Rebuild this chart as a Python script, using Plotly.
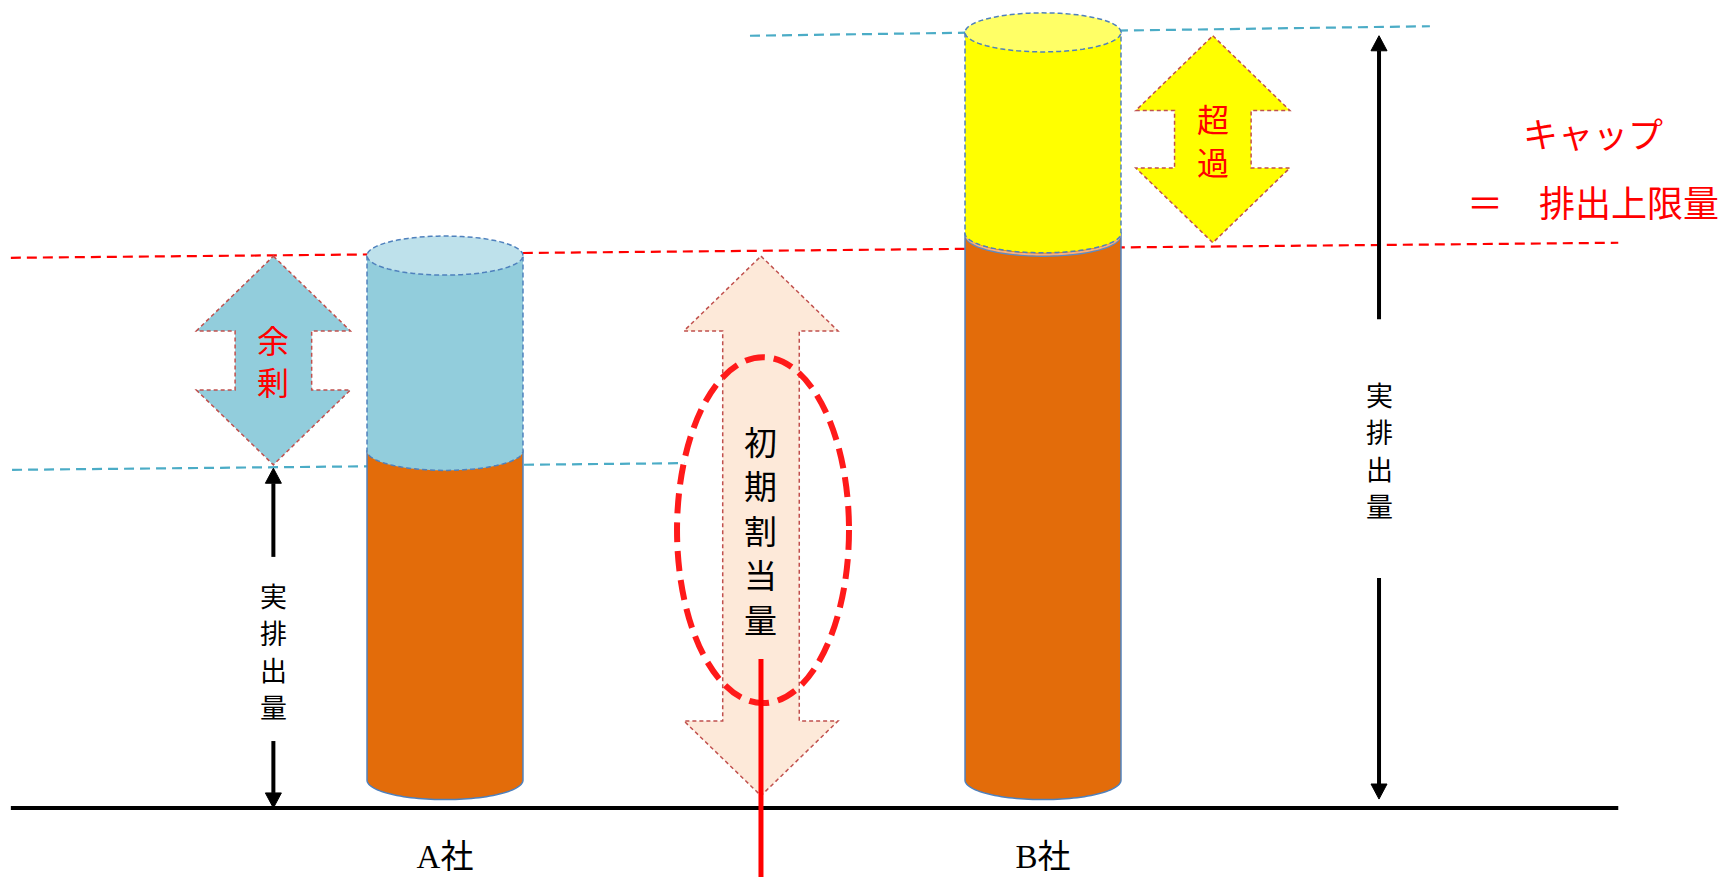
import numpy as np
import plotly.graph_objects as go

# ---------------- data (schematic emission units; ground = 0) ----------------
companies = ["A社", "B社"]
company_pos = [0, 1]
actual_emissions = [64, 139]        # 実排出量 (top of each column)
initial_allocations = [99, 103]     # 初期割当量 = キャップ (cap level on each column)
column_base = [5, 5]

cap_line_levels = [98.6, 101.3]     # red dashed cap line (left end, right end)
a_actual_line_levels = [60.6, 61.8] # blue dashed line at A's actual emissions
b_actual_line_levels = [138.4, 140.1]  # blue dashed line at B's actual emissions

surplus_span = [61.5, 98.9]         # 余剰 (A)
excess_span = [101.3, 138.4]        # 超過 (B)
allocation_span = [2.2, 98.9]       # 初期割当量
a_actual_span = [0.0, 60.9]         # 実排出量 (A)
b_actual_span = [1.6, 138.4]        # 実排出量 (B)

# ---------------- layout helpers (positions / sizes) ----------------
X_RANGE = [-0.74415, 2.14716]
Y_RANGE = [-12.366, 144.803]
PX_PER_UNIT = 5.58
LINE_X = [-0.726, 1.962]
A_LINE_X = [-0.724, 0.400]
B_LINE_X = [0.510, 1.647]
X_SURPLUS = -0.287
X_EXCESS = 1.284
X_ALLOC = 0.5284
X_A_ACT = -0.287
X_B_ACT = 1.5619

CYL_RX = 0.1304
CYL_RY = 3.5
HEAD_HW = 0.1288
SHAFT_HW = 0.0640
HEAD_LEN = 13.4

shapes = []


def pts_to_path(xs, ys, close=True):
    p = "M " + " L ".join(f"{x:.5f},{y:.4f}" for x, y in zip(xs, ys))
    return p + (" Z" if close else "")


def ellipse(cx, cy, rx, ry, t0, t1, n=60):
    t = np.linspace(t0, t1, n)
    return list(cx + rx * np.cos(t)), list(cy + ry * np.sin(t))


def cyl_body(cx, lo, hi, fill, line_color, dash, width=1.5):
    ax, ay = ellipse(cx, lo, CYL_RX, CYL_RY, np.pi, 2 * np.pi)
    xs = [cx - CYL_RX] + ax + [cx + CYL_RX]
    ys = [hi] + ay + [hi]
    shapes.append(dict(type="path", path=pts_to_path(xs, ys), xref="x", yref="y",
                       fillcolor=fill, line=dict(color=line_color, width=width, dash=dash),
                       layer="above"))


def cyl_top(cx, lvl, fill, line_color, dash, width=1.5):
    ex, ey = ellipse(cx, lvl, CYL_RX, CYL_RY, 0, 2 * np.pi, 80)
    shapes.append(dict(type="path", path=pts_to_path(ex, ey), xref="x", yref="y",
                       fillcolor=fill, line=dict(color=line_color, width=width, dash=dash),
                       layer="above"))


def lower_arc(cx, lvl, color, width):
    ax, ay = ellipse(cx, lvl, CYL_RX * 0.985, CYL_RY, np.pi, 2 * np.pi)
    shapes.append(dict(type="path", path=pts_to_path(ax, ay, close=False), xref="x", yref="y",
                       line=dict(color=color, width=width), layer="above"))


def dbl_arrow(cx, lo, hi, fill):
    xs = [cx, cx + HEAD_HW, cx + SHAFT_HW, cx + SHAFT_HW, cx + HEAD_HW, cx,
          cx - HEAD_HW, cx - SHAFT_HW, cx - SHAFT_HW, cx - HEAD_HW]
    ys = [hi, hi - HEAD_LEN, hi - HEAD_LEN, lo + HEAD_LEN, lo + HEAD_LEN, lo,
          lo + HEAD_LEN, lo + HEAD_LEN, hi - HEAD_LEN, hi - HEAD_LEN]
    shapes.append(dict(type="path", path=pts_to_path(xs, ys), xref="x", yref="y",
                       fillcolor=fill, line=dict(color="#C0504D", width=1.5, dash="4px,3px"),
                       layer="above"))


def black_arrow(cx, lo, hi, gap_lo, gap_hi):
    hw, hl = 0.0134, 2.7
    shapes.append(dict(type="line", x0=cx, x1=cx, y0=hi - hl, y1=gap_hi, xref="x", yref="y",
                       line=dict(color="black", width=4), layer="above"))
    shapes.append(dict(type="line", x0=cx, x1=cx, y0=gap_lo, y1=lo + hl, xref="x", yref="y",
                       line=dict(color="black", width=4), layer="above"))
    for tip, base in ((hi, hi - hl), (lo, lo + hl)):
        shapes.append(dict(type="path",
                           path=pts_to_path([cx, cx + hw, cx - hw], [tip, base, base]),
                           xref="x", yref="y", fillcolor="black",
                           line=dict(color="black", width=1), layer="above"))


def dashed_line(xs, ys, color, width=2.2, dash="10px,6px"):
    shapes.append(dict(type="line", x0=xs[0], x1=xs[1], y0=ys[0], y1=ys[1], xref="x", yref="y",
                       line=dict(color=color, width=width, dash=dash), layer="above"))


# ground
shapes.append(dict(type="line", x0=LINE_X[0], x1=LINE_X[1], y0=0, y1=0, xref="x", yref="y",
                   line=dict(color="black", width=4), layer="above"))

# guide lines (drawn under the cylinders)
dashed_line(A_LINE_X, a_actual_line_levels, "#4BACC6")
dashed_line(B_LINE_X, b_actual_line_levels, "#4BACC6")
dashed_line(LINE_X, cap_line_levels, "#FF0000")

# cylinders
# A: orange actual + blue surplus up to allocation
cyl_body(company_pos[0], column_base[0], actual_emissions[0], "#E36C0A", "#4F81BD", "solid")
cyl_body(company_pos[0], actual_emissions[0], initial_allocations[0], "#92CDDC", "#4F81BD", "5px,3px")
cyl_top(company_pos[0], initial_allocations[0], "#BEE1EB", "#4F81BD", "5px,3px")
# B: orange up to allocation + yellow excess up to actual
cyl_body(company_pos[1], column_base[1], initial_allocations[1], "#E36C0A", "#4F81BD", "solid")
lower_arc(company_pos[1], initial_allocations[1] - 0.6, "#5B8BC5", 1.5)
lower_arc(company_pos[1], initial_allocations[1] - 0.3, "#F4B183", 2)
cyl_body(company_pos[1], initial_allocations[1], actual_emissions[1], "#FFFF00", "#4F81BD", "5px,3px")
cyl_top(company_pos[1], actual_emissions[1], "#FFFF66", "#4F81BD", "5px,3px")

# fat double arrows
dbl_arrow(X_SURPLUS, surplus_span[0], surplus_span[1], "#92CDDC")
dbl_arrow(X_EXCESS, excess_span[0], excess_span[1], "#FFFF00")
dbl_arrow(X_ALLOC, allocation_span[0], allocation_span[1], "#FDE9D9")

# red dashed ellipse around 初期割当量 + red pointer line
ell_cx, ell_rx = 0.5318, 0.1438
ell_cy, ell_ry = 49.8, 31.0
shapes.append(dict(type="circle", x0=ell_cx - ell_rx, x1=ell_cx + ell_rx,
                   y0=ell_cy - ell_ry, y1=ell_cy + ell_ry, xref="x", yref="y",
                   line=dict(color="#FF1A1A", width=6, dash="20px,9px"), layer="above"))
shapes.append(dict(type="line", x0=X_ALLOC, x1=X_ALLOC, y0=26.7, y1=Y_RANGE[0], xref="x", yref="y",
                   line=dict(color="#FF0000", width=5), layer="above"))

# black 実排出量 arrows (with a gap for the label)
black_arrow(X_A_ACT, a_actual_span[0], a_actual_span[1], 12.0, 45.0)
black_arrow(X_B_ACT, b_actual_span[0], b_actual_span[1], 41.2, 87.6)

CJK = "Noto Sans CJK JP"
SERIF = "Liberation Serif, Noto Sans CJK JP"

annotations = []


def vtext(x, y_center, text, size, color, spacing_px):
    n = len(text)
    step = spacing_px / PX_PER_UNIT
    for i, ch in enumerate(text):
        y = y_center + ((n - 1) / 2 - i) * step
        annotations.append(dict(x=x, y=y, text=ch, xref="x", yref="y", showarrow=False,
                                xanchor="center", yanchor="middle",
                                font=dict(family=CJK, size=size, color=color)))


vtext(X_SURPLUS, sum(surplus_span) / 2, "余剰", 32, "#FF0000", 42)
vtext(X_EXCESS, sum(excess_span) / 2, "超過", 32, "#FF0000", 43)
vtext(X_ALLOC, 49.9, "初期割当量", 33, "black", 44.5)
vtext(X_A_ACT, 28.2, "実排出量", 27, "black", 37)
vtext(X_B_ACT, 64.2, "実排出量", 27, "black", 37)

for txt, y, size in (("キャップ", 121.0, 35), ("＝　排出上限量", 108.8, 36)):
    annotations.append(dict(x=1.920, y=y, text=txt, xref="x", yref="y", showarrow=False,
                            xanchor="center", yanchor="middle",
                            font=dict(family=CJK, size=size, color="#FF0000")))

fig = go.Figure()
fig.add_trace(go.Scatter(
    x=company_pos, y=[-9.3, -9.3], mode="text", text=companies,
    textfont=dict(family=SERIF, size=33, color="black"),
    textposition="middle center", hoverinfo="skip", showlegend=False,
))

fig.update_layout(
    width=1729, height=877,
    margin=dict(l=0, r=0, t=0, b=0),
    paper_bgcolor="white", plot_bgcolor="white",
    xaxis=dict(range=X_RANGE, visible=False, fixedrange=True),
    yaxis=dict(range=Y_RANGE, visible=False, fixedrange=True),
    shapes=shapes, annotations=annotations, showlegend=False,
)

fig.write_html("out.html")
